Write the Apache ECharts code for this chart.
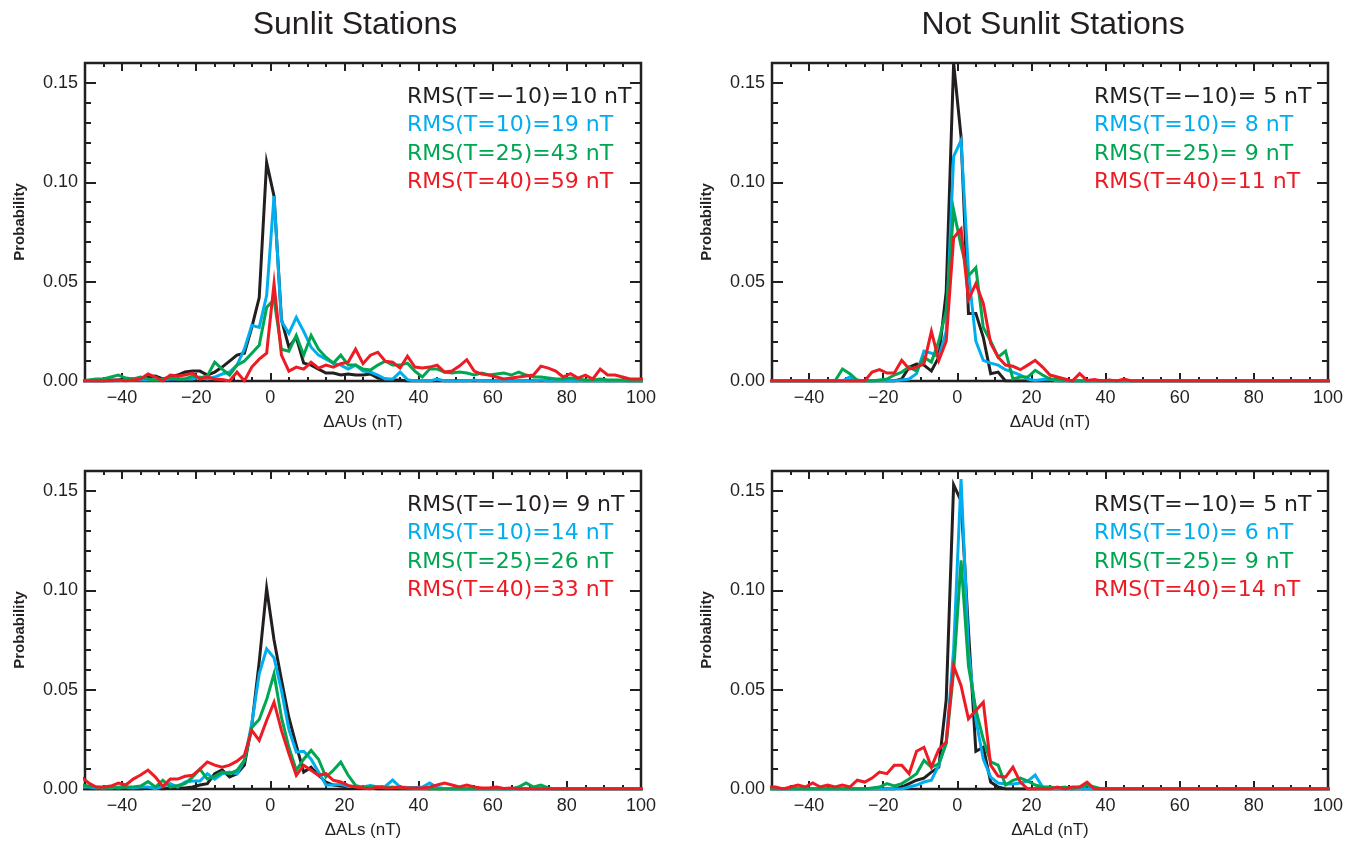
<!DOCTYPE html>
<html>
<head>
<meta charset="utf-8">
<title>Sunlit / Not Sunlit Stations</title>
<script src="https://cdn.jsdelivr.net/npm/echarts@6/dist/echarts.min.js"></script>
<style>
  html, body { margin: 0; padding: 0; background: #fff; }
  #chart { width: 1357px; height: 846px; }
</style>
</head>
<body>
<div id="chart"></div>
<script>
// bin centres (nT), 2 nT wide
const bins = [-51,-49,-47,-45,-43,-41,-39,-37,-35,-33,
  -31,-29,-27,-25,-23,-21,-19,-17,-15,-13,
  -11,-9,-7,-5,-3,-1,1,3,5,7,
  9,11,13,15,17,19,21,23,25,27,
  29,31,33,35,37,39,41,43,45,47,
  49,51,53,55,57,59,61,63,65,67,
  69,71,73,75,77,79,81,83,85,87,
  89,91,93,95,97,99,101];

// dAUs, sunlit
const ausM10 = [0,0,0,0,0.0005,0.0005,0.001,0.001,0.0015,0.002,
  0.0025,0.001,0.002,0.003,0.0045,0.005,0.005,0.003,0.0045,0.007,
  0.010,0.013,0.014,0.027,0.042,0.110,0.093,0.031,0.017,0.022,
  0.009,0.008,0.006,0.004,0.004,0.003,0.0035,0.003,0.003,0.0035,
  0.0015,0.001,0.0005,0.0005,0,0,0,0,0,0,
  0,0,0,0,0,0,0,0,0,0,
  0,0,0,0,0,0,0,0,0,0,
  0,0,0,0,0,0,0];
const ausP10 = [0,0,0,0,0,0,0.0005,0.0005,0.0005,0.0005,
  0.0005,0.0005,0.001,0.001,0.001,0.001,0.002,0.001,0.002,0.0035,
  0.0045,0.008,0.016,0.028,0.027,0.043,0.093,0.030,0.024,0.032,
  0.025,0.017,0.013,0.011,0.009,0.008,0.006,0.008,0.005,0.0045,
  0.003,0.001,0.001,0.0045,0.0007,0,0.0003,0,0.001,0,
  0,0,0,0.0005,0,0,0,0,0,0,
  0,0,0.0005,0,0,0,0,0,0,0,
  0,0,0,0,0,0,0];
const ausP25 = [0,0.0005,0.001,0.001,0.002,0.003,0.0015,0.001,0.002,0.001,
  0.0005,0.001,0.0015,0.001,0.001,0.0025,0.0015,0.0025,0.0095,0.006,
  0.003,0.008,0.010,0.014,0.018,0.037,0.041,0.016,0.015,0.023,
  0.013,0.023,0.016,0.012,0.009,0.013,0.008,0.008,0.006,0.0055,
  0.008,0.010,0.008,0.008,0.009,0.005,0.002,0.006,0.006,0.0045,
  0.004,0.0045,0.004,0.003,0.004,0.003,0.0035,0.004,0.003,0.0045,
  0.003,0.002,0.002,0.0015,0.001,0.001,0.0015,0.001,0.0005,0.0005,
  0.001,0.0005,0.0005,0.0005,0,0,0];
const ausP40 = [0,0,0,0,0,0.0005,0,0.0005,0.001,0.0035,
  0.002,0,0.003,0.0025,0.003,0.004,0.001,0.002,0.001,0.0007,
  0,0.0045,0,0.007,0.011,0.014,0.049,0.013,0.005,0.007,
  0.006,0.0095,0.0065,0.008,0.007,0.0087,0.0095,0.016,0.0087,0.013,
  0.0145,0.010,0.0095,0.0065,0.0125,0.007,0.0065,0.007,0.008,0.0045,
  0.005,0.0075,0.0107,0.005,0.0035,0.003,0.002,0.001,0.0015,0.002,
  0.0025,0.003,0.0075,0.0065,0.005,0.002,0.0037,0.0015,0.003,0.001,
  0.006,0.003,0.003,0.002,0.001,0.001,0.001];

// dAUd, not sunlit
const audM10 = [0,0,0,0,0,0,0,0,0,0,
  0,0,0,0,0,0,0,0,0.001,0.007,
  0.0085,0.008,0.005,0.012,0.045,0.160,0.123,0.034,0.034,0.022,
  0.0037,0.0045,0,0,0,0,0,0,0,0,
  0,0,0,0,0,0,0,0,0,0,
  0,0,0,0,0,0,0,0,0,0,
  0,0,0,0,0,0,0,0,0,0,
  0,0,0,0,0,0,0];
const audP10 = [0,0,0,0,0,0,0,0,0,0,
  0,0.002,0.0005,0,0,0,0,0,0.0005,0.001,
  0.0037,0.015,0.014,0.012,0.025,0.113,0.121,0.055,0.020,0.0104,
  0.009,0.008,0.0057,0.0045,0.003,0.001,0.0003,0.0007,0.001,0,
  0,0,0,0,0,0,0,0,0,0,
  0,0,0,0,0,0,0,0,0,0,
  0,0,0,0,0,0,0,0,0,0,
  0,0,0,0,0,0,0];
const audP25 = [0,0,0,0,0,0,0,0,0,0,
  0.006,0.0037,0.0003,0,0,0.0005,0.001,0.003,0.0045,0.007,
  0.005,0.012,0.0095,0.020,0.0355,0.086,0.068,0.053,0.057,0.027,
  0.020,0.012,0.015,0.001,0.002,0.002,0.0054,0.003,0.001,0.0007,
  0.0003,0,0,0,0,0,0,0,0,0,
  0,0,0,0,0,0,0,0,0,0,
  0,0,0,0,0,0,0,0,0,0,
  0,0,0,0,0,0,0];
const audP40 = [0,0,0,0,0,0,0,0,0,0,
  0,0,0,0,0.0045,0.0057,0.004,0.004,0.0104,0.006,
  0.007,0.0087,0.025,0.0104,0.020,0.072,0.0765,0.041,0.049,0.039,
  0.019,0.012,0.008,0.0074,0.0057,0.008,0.0104,0.007,0.003,0.002,
  0.001,0,0.0037,0.0003,0.0007,0,0.0005,0,0.001,0,
  0,0,0,0,0,0,0,0,0,0,
  0,0,0,0,0,0,0,0,0,0,
  0,0,0,0,0,0,0];

// dALs, sunlit
const alsM10 = [0,0,0,0,0,0,0,0,0,0.0005,
  0.0005,0,0.0005,0.0005,0.0005,0.001,0.002,0.0027,0.0077,0.0097,
  0.006,0.0077,0.012,0.032,0.064,0.101,0.075,0.055,0.036,0.022,
  0.0085,0.011,0.0069,0.0035,0.002,0.0015,0.001,0.001,0.0005,0.0005,
  0,0,0,0,0,0,0,0,0,0,
  0,0,0,0,0,0,0,0,0,0,
  0,0,0,0,0,0,0,0,0,0,
  0,0,0,0,0,0,0];
const alsP10 = [0.001,0.001,0.0005,0.0005,0.0005,0.001,0.001,0.0005,0.001,0.001,
  0.0002,0.0013,0.0027,0.001,0.0035,0.004,0.004,0.0077,0.005,0.0077,
  0.0085,0.0077,0.0144,0.033,0.058,0.0705,0.066,0.0496,0.030,0.0186,
  0.019,0.015,0.0085,0.002,0.002,0.0024,0.0013,0.0013,0.001,0.0018,
  0.001,0.0013,0.0045,0.001,0.0007,0.0007,0.001,0.003,0.0007,0.0003,
  0,0,0,0,0,0,0,0,0,0,
  0,0,0,0,0,0,0,0,0,0,
  0,0,0,0,0,0,0];
const alsP25 = [0.002,0.0015,0.001,0.0005,0.001,0.0005,0.001,0.001,0.0015,0.0037,
  0.001,0.0044,0.001,0.0018,0.0027,0.006,0.010,0.005,0.0064,0.0085,
  0.0077,0.0094,0.0144,0.031,0.035,0.045,0.058,0.036,0.021,0.0094,
  0.015,0.0194,0.015,0.006,0.0094,0.0136,0.0069,0.0018,0.0007,0.0013,
  0.001,0.0007,0.001,0.0005,0.0005,0.0003,0.0003,0,0,0,
  0,0,0,0,0,0,0,0,0,0.001,
  0.003,0.001,0.002,0.0005,0,0,0,0,0,0,
  0,0,0,0,0,0,0];
const alsP40 = [0.006,0.003,0.001,0.001,0.0015,0.003,0.002,0.005,0.007,0.0095,
  0.006,0.0013,0.005,0.005,0.0064,0.0069,0.010,0.0136,0.012,0.011,
  0.012,0.014,0.017,0.0295,0.0245,0.0345,0.0437,0.0295,0.0178,0.0069,
  0.0119,0.0094,0.0069,0.0077,0.0044,0.0035,0.0018,0.001,0.0005,0,
  0.001,0.0005,0.0005,0.001,0.0005,0.0005,0.0005,0.001,0.002,0.003,
  0.002,0.001,0.002,0.001,0.0005,0.0005,0.001,0.0003,0.0005,0,
  0,0,0,0,0,0,0,0,0,0,
  0,0,0,0,0,0,0];

// dALd, not sunlit
const aldM10 = [0,0,0,0,0,0,0,0,0,0,
  0,0,0,0,0,0,0,0,0.001,0.0027,
  0.0044,0.0055,0.0085,0.011,0.045,0.153,0.145,0.080,0.019,0.021,
  0.0035,0.001,0,0,0,0,0,0,0,0,
  0,0,0,0,0,0,0,0,0,0,
  0,0,0,0,0,0,0,0,0,0,
  0,0,0,0,0,0,0,0,0,0,
  0,0,0,0,0,0,0];
const aldP10 = [0,0,0,0,0,0,0,0,0,0,
  0,0,0,0,0,0,0,0,0,0.001,
  0.002,0.0035,0.0044,0.012,0.0236,0.070,0.156,0.070,0.035,0.015,
  0.006,0.003,0.0025,0.0025,0.003,0.004,0.007,0.001,0.0005,0,
  0,0,0,0,0,0,0,0,0,0,
  0,0,0,0,0,0,0,0,0,0,
  0,0,0,0,0,0,0,0,0,0,
  0,0,0,0,0,0,0];
const aldP25 = [0,0,0,0,0,0,0,0,0,0,
  0,0,0,0,0.0005,0.001,0.0027,0.0015,0.0027,0.005,
  0.0077,0.0144,0.011,0.0127,0.0228,0.059,0.115,0.062,0.040,0.025,
  0.0136,0.012,0.002,0.0044,0.0055,0.004,0.002,0.001,0.001,0.0005,
  0.001,0.0002,0.001,0.002,0.001,0,0,0,0,0,
  0,0,0,0,0,0,0,0,0,0,
  0,0,0,0,0,0,0,0,0,0,
  0,0,0,0,0,0,0];
const aldP40 = [0.001,0.001,0,0.001,0.002,0.001,0.003,0.001,0.002,0.001,
  0.002,0.001,0.0044,0.0035,0.0055,0.0085,0.0077,0.012,0.012,0.0077,
  0.019,0.021,0.011,0.020,0.0236,0.062,0.052,0.0353,0.0395,0.0437,
  0.012,0.0065,0.006,0.011,0.0035,0,0,0.0003,0,0.001,
  0,0.001,0.001,0.0035,0,0,0,0,0,0,
  0,0,0,0,0,0,0,0,0,0,
  0,0,0,0,0,0,0,0,0,0,
  0,0,0,0,0,0,0];

const rmsAUs = ['RMS(T=\u221210)=10 nT', 'RMS(T=10)=19 nT', 'RMS(T=25)=43 nT', 'RMS(T=40)=59 nT'];
const rmsAUd = ['RMS(T=\u221210)= 5 nT', 'RMS(T=10)= 8 nT', 'RMS(T=25)= 9 nT', 'RMS(T=40)=11 nT'];
const rmsALs = ['RMS(T=\u221210)= 9 nT', 'RMS(T=10)=14 nT', 'RMS(T=25)=26 nT', 'RMS(T=40)=33 nT'];
const rmsALd = ['RMS(T=\u221210)= 5 nT', 'RMS(T=10)= 6 nT', 'RMS(T=25)= 9 nT', 'RMS(T=40)=14 nT'];

const xTicks = [-40, -20, 0, 20, 40, 60, 80, 100];
const xMinor = [-50,-45,-40,-35,-30,-25,-20,-15,-10,-5,0,5,10,15,20,25,30,35,40,45,50,55,60,65,70,75,80,85,90,95,100];
const yTicks = [0, 0.05, 0.10, 0.15];
const yMinor = [0,0.01,0.02,0.03,0.04,0.05,0.06,0.07,0.08,0.09,0.10,0.11,0.12,0.13,0.14,0.15,0.16];

const ink = '#231f20';
const lineColors = [ink, '#00aeef', '#00a651', '#ed1c24'];

const panels = [
  { xName: '\u0394AUs (nT)', data: [ausM10, ausP10, ausP25, ausP40], rms: rmsAUs, left: 85, top: 63 },
  { xName: '\u0394AUd (nT)', data: [audM10, audP10, audP25, audP40], rms: rmsAUd, left: 772, top: 63 },
  { xName: '\u0394ALs (nT)', data: [alsM10, alsP10, alsP25, alsP40], rms: rmsALs, left: 85, top: 471 },
  { xName: '\u0394ALd (nT)', data: [aldM10, aldP10, aldP25, aldP40], rms: rmsALd, left: 772, top: 471 }
];
const plotW = 556, plotH = 318;

const chart = echarts.init(document.getElementById('chart'), null, { renderer: 'canvas' });

const labelFont = { color: ink, fontSize: 18, fontFamily: 'Liberation Sans' };

function xAxisFor(g, pos, ticks, len, withLabels, name) {
  return {
    type: 'value', gridIndex: g, position: pos, min: -50, max: 100,
    axisLine: { show: false, onZero: false },
    splitLine: { show: false },
    axisTick: { show: true, inside: true, length: len, customValues: ticks, lineStyle: { color: ink, width: 2 } },
    axisLabel: withLabels ? {
      show: true, customValues: xTicks, margin: 8, ...labelFont,
      formatter: v => String(v).replace('-', '\u2212')
    } : { show: false },
    name: name || '', nameLocation: 'middle', nameGap: 33,
    nameTextStyle: { color: ink, fontSize: 17, fontFamily: 'Liberation Sans' }
  };
}

function yAxisFor(g, pos, ticks, len, withLabels, name) {
  return {
    type: 'value', gridIndex: g, position: pos, min: 0, max: 0.16,
    axisLine: { show: false, onZero: false },
    splitLine: { show: false },
    axisTick: { show: true, inside: true, length: len, customValues: ticks, lineStyle: { color: ink, width: 2 } },
    axisLabel: withLabels ? {
      show: true, customValues: yTicks, margin: 7, ...labelFont,
      formatter: v => v.toFixed(2)
    } : { show: false },
    name: name || '', nameLocation: 'middle', nameGap: 58,
    nameTextStyle: { color: ink, fontSize: 15, fontWeight: 'bold', fontFamily: 'Liberation Sans' }
  };
}

const grids = [], xAxes = [], yAxes = [], series = [], graphics = [];

panels.forEach((p, g) => {
  grids.push({ left: p.left, top: p.top, width: plotW, height: plotH, show: true,
    borderColor: ink, borderWidth: 2.5, backgroundColor: 'transparent' });

  const xBase = xAxes.length, yBase = yAxes.length;
  xAxes.push(xAxisFor(g, 'bottom', xTicks, 8, true, p.xName));
  xAxes.push(xAxisFor(g, 'bottom', xMinor, 4, false));
  xAxes.push(xAxisFor(g, 'top', xTicks, 8, false));
  xAxes.push(xAxisFor(g, 'top', xMinor, 4, false));
  yAxes.push(yAxisFor(g, 'left', yTicks, 11, true, 'Probability'));
  yAxes.push(yAxisFor(g, 'left', yMinor, 6, false));
  yAxes.push(yAxisFor(g, 'right', yTicks, 11, false));
  yAxes.push(yAxisFor(g, 'right', yMinor, 6, false));

  p.data.forEach((vals, k) => {
    series.push({
      type: 'line', xAxisIndex: xBase, yAxisIndex: yBase,
      data: bins.map((b, i) => [b, vals[i]]),
      showSymbol: false, symbol: 'none', clip: true, z: 3 + k,
      lineStyle: { color: lineColors[k], width: 3, join: 'miter' },
      itemStyle: { color: lineColors[k] }
    });
  });

  // RMS labels in the upper right of each panel
  p.rms.forEach((txt, k) => {
    graphics.push({
      type: 'text', x: p.left + 322, y: p.top + 34 + k * 28.4,
      style: { text: txt, fill: lineColors[k], fontSize: 22, fontFamily: 'DejaVu Sans',
        textAlign: 'left', textVerticalAlign: 'middle' }
    });
  });
});

graphics.push({ type: 'text', x: 355, y: 25,
  style: { text: 'Sunlit Stations', fill: ink, fontSize: 32, fontFamily: 'Liberation Sans',
    textAlign: 'center', textVerticalAlign: 'middle' } });
graphics.push({ type: 'text', x: 1053, y: 25,
  style: { text: 'Not Sunlit Stations', fill: ink, fontSize: 32, fontFamily: 'Liberation Sans',
    textAlign: 'center', textVerticalAlign: 'middle' } });

chart.setOption({
  animation: false,
  backgroundColor: '#fff',
  grid: grids,
  xAxis: xAxes,
  yAxis: yAxes,
  series: series,
  graphic: graphics
});
</script>
</body>
</html>
